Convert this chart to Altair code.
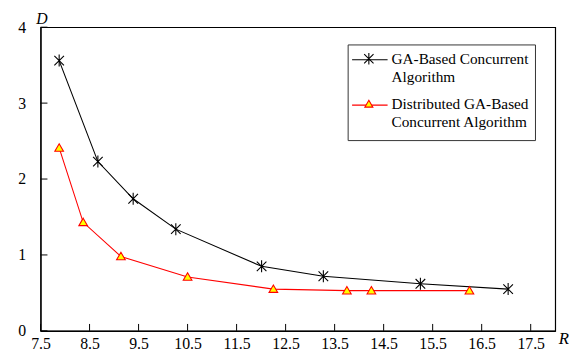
import altair as alt
import pandas as pd

# --- data ---
ga_r = [7.88, 8.67, 9.39, 10.26, 12.01, 13.27, 15.25, 17.04]
ga_d = [3.56, 2.23, 1.74, 1.34, 0.85, 0.72, 0.62, 0.55]
dga_r = [7.88, 8.37, 9.14, 10.5, 12.25, 13.75, 14.25, 16.25]
dga_d = [2.41, 1.43, 0.98, 0.71, 0.55, 0.53, 0.53, 0.53]
s1 = "GA-Based Concurrent Algorithm"
s2 = "Distributed GA-Based Concurrent Algorithm"
legend_lines_1 = ["GA-Based Concurrent", "Algorithm"]
legend_lines_2 = ["Distributed GA-Based", "Concurrent Algorithm"]
x_ticks = [7.5, 8.5, 9.5, 10.5, 11.5, 12.5, 13.5, 14.5, 15.5, 16.5, 17.5]
y_ticks = [0, 1, 2, 3, 4]

df = pd.DataFrame({
    "series": [s1] * len(ga_r) + [s2] * len(dga_r),
    "R": ga_r + dga_r,
    "D": ga_d + dga_d,
})
xt = pd.DataFrame({"t": x_ticks})
yt = pd.DataFrame({"t": y_ticks})
one = pd.DataFrame({"k": [0]})

W, H = 522, 308
FONT = "Liberation Serif"
star = "M-1,-1L1,1M-1,1L1,-1M0,-1.25L0,1.25"
tri = "M0,-1L1.05,0.8L-1.05,0.8Z"

xs = alt.Scale(domain=[7.5, 18.0], nice=False, zero=False)
ys = alt.Scale(domain=[0, 4], nice=False)
dom = [s1, s2]

lines = alt.Chart(df).mark_line(strokeWidth=1.1).encode(
    x=alt.X("R:Q", scale=xs, axis=alt.Axis(values=x_ticks, ticks=False, grid=False,
            labelFont=FONT, labelFontSize=16, labelColor="black", labelPadding=5,
            domainColor="black", title="R", titleFont=FONT, titleFontStyle="italic",
            titleFontWeight="normal", titleFontSize=17, titleColor="black",
            titleX=W + 3, titleY=8, titleAlign="left", titleBaseline="middle",
            format=".1f", labelFlush=False)),
    y=alt.Y("D:Q", scale=ys, axis=alt.Axis(values=y_ticks, ticks=False, grid=False,
            labelFont=FONT, labelFontSize=16, labelColor="black", labelPadding=15,
            domainColor="black", title="D", titleFont=FONT, titleFontStyle="italic",
            titleFontWeight="normal", titleFontSize=16, titleColor="black", format="d",
            titleAngle=0, titleX=1, titleY=-4, titleAlign="center", titleBaseline="alphabetic")),
    color=alt.Color("series:N", scale=alt.Scale(domain=dom, range=["black", "red"]), legend=None),
    detail="series:N",
)

pts1 = alt.Chart(df).transform_filter(alt.datum.series == s1).mark_point(
    shape=star, size=95, stroke="black", strokeWidth=1.1, filled=False, opacity=1
).encode(x=alt.X("R:Q", scale=xs), y=alt.Y("D:Q", scale=ys))

pts2 = alt.Chart(df).transform_filter(alt.datum.series == s2).mark_point(
    shape=tri, size=70, stroke="red", strokeWidth=1.1, fill="#ffff00", filled=True, opacity=1
).encode(x=alt.X("R:Q", scale=xs), y=alt.Y("D:Q", scale=ys))

xtk = alt.Chart(xt).mark_rule(color="black", strokeWidth=1).encode(
    x=alt.X("t:Q", scale=xs), y=alt.value(H - 7), y2=alt.value(H))
ytk = alt.Chart(yt).mark_rule(color="black", strokeWidth=1).encode(
    y=alt.Y("t:Q", scale=ys), x=alt.value(0), x2=alt.value(7))

# --- legend (drawn by hand) ---
LX, LY = 312, 18
box = alt.Chart(one).mark_rect(fill="white", stroke="#333333", strokeWidth=1).encode(
    x=alt.value(LX), x2=alt.value(LX + 190), y=alt.value(LY), y2=alt.value(LY + 97))
leg_parts = [box]
entries = [
    (legend_lines_1, "black", star, None, 90, 14),
    (legend_lines_2, "red", tri, "#ffff00", 60, 60),
]
for texts, col, shp, fillc, sz, dy in entries:
    yy = LY + dy
    leg_parts.append(alt.Chart(one).mark_rule(color=col, strokeWidth=1.1).encode(
        x=alt.value(LX + 4), x2=alt.value(LX + 40), y=alt.value(yy + 1)))
    if fillc:
        mk = alt.Chart(one).mark_point(shape=shp, size=sz, stroke=col, strokeWidth=1.1,
                                       fill=fillc, filled=True, opacity=1)
    else:
        mk = alt.Chart(one).mark_point(shape=shp, size=sz, stroke=col, strokeWidth=1.1,
                                       filled=False, opacity=1)
    leg_parts.append(mk.encode(x=alt.value(LX + 21), y=alt.value(yy)))
    for i, t in enumerate(texts):
        leg_parts.append(alt.Chart(one).mark_text(
            font=FONT, fontSize=15.5, color="black", align="left", baseline="middle"
        ).encode(x=alt.value(LX + 44), y=alt.value(yy + i * 18.5), text=alt.value(t)))

chart = alt.layer(lines, xtk, ytk, pts1, pts2, *leg_parts).properties(
    width=W, height=H,
    padding={"left": 33, "top": 17, "right": 14, "bottom": 22},
    autosize=alt.AutoSizeParams(type="none"),
).configure_view(stroke="black", strokeWidth=1.2).configure_axis(
    domainWidth=1.2
)

chart.save("out.html", embed_options={"renderer": "svg", "actions": False})
